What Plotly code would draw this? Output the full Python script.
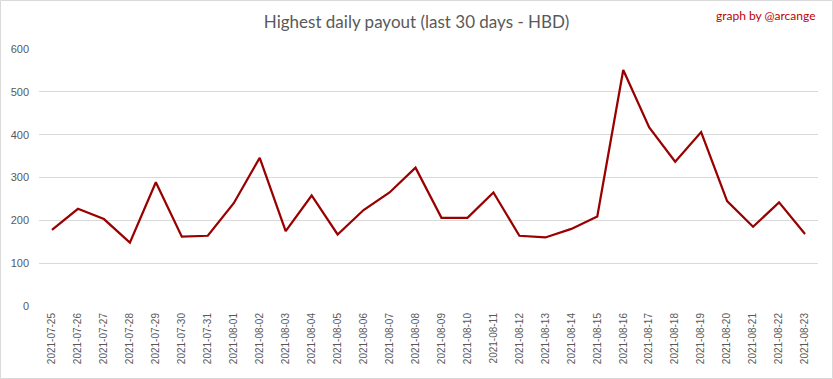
import plotly.graph_objects as go

dates = ["2021-07-25", "2021-07-26", "2021-07-27", "2021-07-28", "2021-07-29", "2021-07-30",
         "2021-07-31", "2021-08-01", "2021-08-02", "2021-08-03", "2021-08-04", "2021-08-05",
         "2021-08-06", "2021-08-07", "2021-08-08", "2021-08-09", "2021-08-10", "2021-08-11",
         "2021-08-12", "2021-08-13", "2021-08-14", "2021-08-15", "2021-08-16", "2021-08-17",
         "2021-08-18", "2021-08-19", "2021-08-20", "2021-08-21", "2021-08-22", "2021-08-23"]
payout = [178, 227, 203, 148, 289, 162, 164, 240, 346, 175, 258, 167,
          224, 265, 323, 206, 206, 265, 164, 160, 180, 209, 551, 417,
          337, 406, 245, 185, 242, 168]
y_ticks = [0, 100, 200, 300, 400, 500, 600]

W, H = 833, 379
L, R, T, B = 39, 15, 49, 73
pw, ph = W - L - R, H - T - B

fig = go.Figure()
fig.add_trace(go.Scatter(x=dates, y=payout, mode="lines",
                         line=dict(color="#990000", width=2.25), hoverinfo="x+y"))

fig.update_layout(
    width=W, height=H,
    margin=dict(l=L, r=R, t=T, b=B),
    paper_bgcolor="white", plot_bgcolor="white",
    showlegend=False,
    title=dict(text="Highest daily payout (last 30 days - HBD)", x=0.5, xanchor="center",
               y=1 - 22 / H, yanchor="middle",
               font=dict(family="Lato", size=17, color="#595959")),
    xaxis=dict(type="category", range=[-0.5, len(dates) - 0.5], tickangle=-90,
               showgrid=False, ticks="", ticklabelstandoff=4,
               tickfont=dict(family="Liberation Sans", size=10, color="#595959"),
               showline=False, zeroline=False),
    yaxis=dict(range=[0, 600], tickvals=y_ticks, showgrid=True, gridcolor="#d9d9d9",
               gridwidth=1, zeroline=False, ticks="", ticklabelstandoff=9,
               tickfont=dict(family="Liberation Sans", size=11, color="#595959")),
    annotations=[dict(text="graph by @arcange", xref="paper", yref="paper",
                      x=1.0, y=1 + (T - 15) / ph, xanchor="right", yanchor="middle",
                      showarrow=False, font=dict(family="Lato", size=12, color="#c00000"))],
    shapes=[dict(type="rect", xref="paper", yref="paper",
                 x0=(0.5 - L) / pw, x1=(W - 0.5 - L) / pw,
                 y0=-(B - 0.5) / ph, y1=1 + (T - 0.5) / ph,
                 line=dict(color="#d9d9d9", width=1), layer="below")],
)

fig.write_html("out.html")
